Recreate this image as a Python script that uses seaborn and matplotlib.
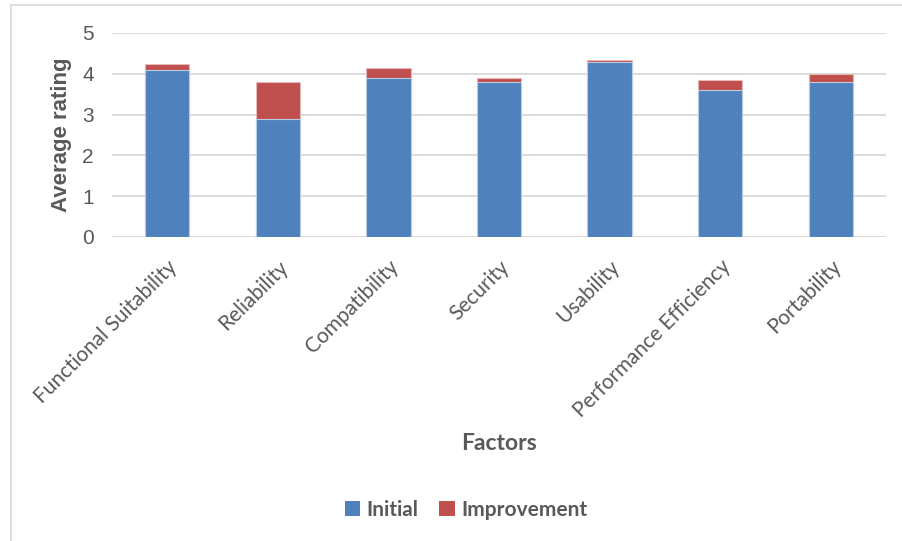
import matplotlib
matplotlib.use("Agg")
import matplotlib.pyplot as plt
from matplotlib.lines import Line2D
from matplotlib.patches import Patch
import seaborn as sns
import pandas as pd

# Quality factors and their average ratings
factors = ["Functional Suitability", "Reliability", "Compatibility", "Security",
           "Usability", "Performance Efficiency", "Portability"]
initial = [4.1, 2.9, 3.9, 3.8, 4.3, 3.6, 3.8]
improvement = [0.15, 0.9, 0.25, 0.1, 0.05, 0.25, 0.2]

BLUE = "#4F81BD"
RED = "#C0504D"
GREY_TEXT = "#595959"
GRID = "#D9D9D9"

df = pd.DataFrame({
    "Factor": factors,
    "Initial": initial,
    "Total": [a + b for a, b in zip(initial, improvement)],
})

sns.set_theme(style="white")
plt.rcParams["font.family"] = ["Liberation Sans", "DejaVu Sans"]

fig = plt.figure(figsize=(9.02, 5.41), dpi=100)
ax = fig.add_axes([112 / 902, 1 - 237 / 541, 774 / 902, 204 / 541])

# stacked bars: full height (initial + improvement) underneath, initial on top
sns.barplot(data=df, x="Factor", y="Total", color=RED, saturation=1, width=0.4,
            edgecolor="#E6B9B8", linewidth=0.8, ax=ax, zorder=2)
sns.barplot(data=df, x="Factor", y="Initial", color=BLUE, saturation=1, width=0.4,
            edgecolor="#B9CDE5", linewidth=0.8, ax=ax, zorder=3)

ax.set_xlim(-0.5, len(factors) - 0.5)
ax.set_ylim(0, 5)
ax.set_yticks(range(0, 6))
ax.grid(axis="y", color=GRID, linewidth=1.3, zorder=0)
ax.set_axisbelow(True)
for s in ax.spines.values():
    s.set_visible(False)

ax.tick_params(axis="both", length=0)
ax.tick_params(axis="y", pad=13, labelsize=15, labelcolor=GREY_TEXT)
ax.set_xticks(range(len(factors)))
ax.set_xticklabels(factors, rotation=45, ha="right", rotation_mode="anchor",
                   fontsize=15, color=GREY_TEXT, family=["Lato", "DejaVu Sans"])
ax.tick_params(axis="x", pad=14)

ax.set_ylabel("Average rating", fontsize=16, fontweight="bold", color=GREY_TEXT)
ax.yaxis.set_label_coords(-0.052, 0.5)
ax.set_xlabel("Factors", fontsize=16.5, fontweight="bold", color=GREY_TEXT,
              family=["Lato", "DejaVu Sans"])
ax.xaxis.label.set_va("center")
ax.xaxis.set_label_coords(0.5, (237 - 443) / 204)

handles = [Patch(facecolor=BLUE, edgecolor="none", label="Initial"),
           Patch(facecolor=RED, edgecolor="none", label="Improvement")]
leg = fig.legend(handles=handles, loc="center", bbox_to_anchor=(466 / 902, 1 - 510 / 541),
                 ncol=2, frameon=False, handlelength=0.75, handleheight=0.75,
                 handletextpad=0.3, columnspacing=1.0,
                 prop={"family": ["Lato", "DejaVu Sans"], "weight": "bold", "size": 15})
for t in leg.get_texts():
    t.set_color(GREY_TEXT)

# chart-area frame
fig.add_artist(Line2D([11 / 902, 1.0], [1 - 5 / 541, 1 - 5 / 541],
                      transform=fig.transFigure, color=GRID, linewidth=1.2))
fig.add_artist(Line2D([11 / 902, 11 / 902], [1 - 5 / 541, 0.0],
                      transform=fig.transFigure, color=GRID, linewidth=1.2))

fig.savefig("out.png", dpi=100)
